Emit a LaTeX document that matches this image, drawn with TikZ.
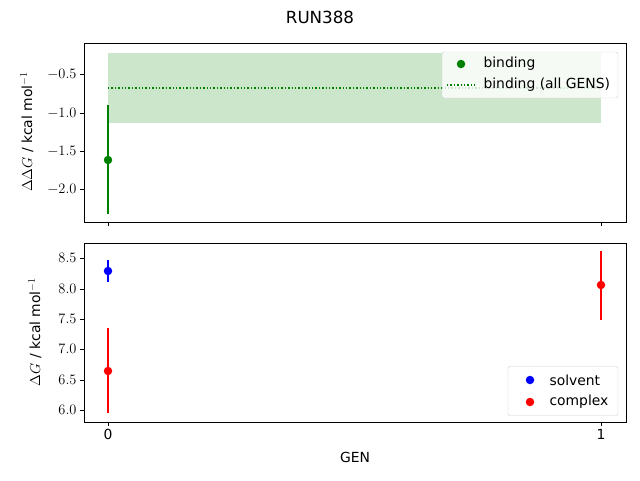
\documentclass[tikz,border=0pt]{standalone}
\usepackage{fontspec}
\setmainfont{DejaVu Sans}
\tikzset{
  tick/.style={font=\fontsize{13.9}{16}\selectfont},
  errbar/.style={line width=1.4pt},
  dot/.style={circle, inner sep=0pt, minimum size=8.5pt},
  legbox/.style={draw=black!20, fill=white, fill opacity=.8, text opacity=1, rounded corners=2pt}
}
\begin{document}
\begin{tikzpicture}[x=1pt,y=-1pt]
\useasboundingbox (0,0) rectangle (640,480);
\node[tick] (title) at (320,17) {\fontsize{16.7}{19}\selectfont RUN388};

% top panel
\fill [green!50!black, opacity=.2] (108,53) rectangle (601,123);
\draw [green!50!black, line width=1.4pt, dotted] (108,88) -- (601,88);
\draw [green!50!black, errbar] (108,105) -- (108,214);
\node [dot, fill=green!50!black] (gp) at (108,160) {};
\draw (84,43) rectangle (626,222);
\foreach \y/\t in {74/-0.5,113/-1.0,151/-1.5,189/-2.0}
  \draw (84,\y) -- (80,\y) node [tick, left] {$\t$};
\foreach \x in {108,601} \draw (\x,222) -- (\x,226);
\node [tick, rotate=90] (ylt) at (27,132) {$\Delta\Delta G$ / kcal mol$^{-1}$};
\node [legbox, minimum width=176, minimum height=46] (legt) at (530,75) {};
\node [dot, fill=green!50!black] (lg1) at (461,64) {};
\node [tick, right] (lt1) at (480,64) {binding};
\draw [green!50!black, line width=1.4pt, dotted] (447,85) -- (475,85);
\node [tick, right] (lt2) at (480,85) {binding (all GENS)};

% bottom panel
\draw [blue, errbar] (108,260) -- (108,282);
\node [dot, fill=blue] (bp) at (108,271) {};
\draw [red, errbar] (108,328) -- (108,413);
\node [dot, fill=red] (rp0) at (108,371) {};
\draw [red, errbar] (601,251) -- (601,320);
\node [dot, fill=red] (rp1) at (601,285) {};
\draw (84,243) rectangle (626,422);
\foreach \y/\t in {258/8.5,289/8.0,319/7.5,349/7.0,380/6.5,410/6.0}
  \draw (84,\y) -- (80,\y) node [tick, left] {$\t$};
\foreach \x/\t in {108/0,601/1}
  \draw (\x,422) -- (\x,426) node [tick, below] {\t};
\node [tick, rotate=90] (ylb) at (35,332) {$\Delta G$ / kcal mol$^{-1}$};
\node [tick] (xl) at (355,457) {GEN};
\node [legbox, minimum width=110, minimum height=49] (legb) at (563,391) {};
\node [dot, fill=blue] (lb1) at (530,380) {};
\node [tick, right] (lbt1) at (546,380) {solvent};
\node [dot, fill=red] (lb2) at (530,402) {};
\node [tick, right] (lbt2) at (546,402) {complex};
\end{tikzpicture}
\end{document}
